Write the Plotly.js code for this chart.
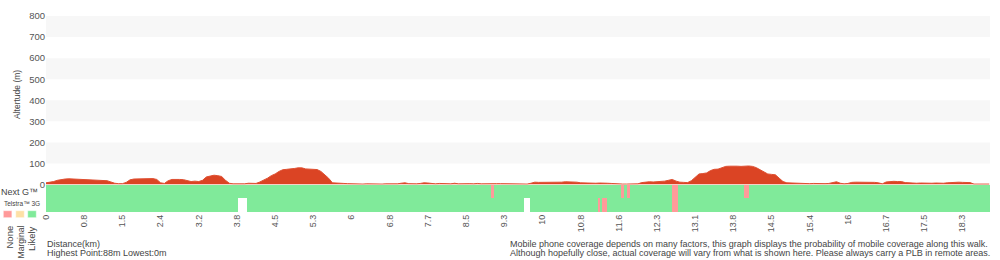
<!DOCTYPE html>
<html><head><meta charset="utf-8">
<script src="https://cdn.plot.ly/plotly-3.0.1.min.js"></script>
<style>html,body{margin:0;padding:0;background:#fff}#chart{width:1000px;height:260px}</style>
</head><body><div id="chart"></div>
<script>
// Elevation (m) sampled evenly along the walk; one distance label every 10 samples
const elevation = [
  8,10,14,20,24,26,27,26,25,25,
  23,22,21,20,21,20,18,12,6,4,
  4,10,22,26,27,28,29,30,28,24,
  8,5,18,24,25,24,23,20,14,16,
  14,20,36,40,44,42,38,20,6,3,
  2,2,3,6,6,5,12,20,30,42,
  50,62,70,72,73,76,79,79,74,73,
  72,71,62,48,30,8,6,6,5,4,
  3,3,2,2,3,2,3,2,2,3,
  3,2,3,6,8,4,3,3,5,8,
  7,4,3,5,3,4,3,6,3,4,
  3,4,3,5,3,4,5,5,4,4,
  4,3,1,1,1,1,2,6,11,10,
  10,9,12,10,9,11,13,12,14,11,
  8,7,6,7,6,7,5,6,5,3,
  2,2,2,2,2,3,9,12,13,12,
  13,14,16,20,24,16,11,10,9,18,
  35,50,52,55,66,72,73,80,86,87,
  88,87,86,88,88,86,80,70,58,50,
  48,46,30,14,8,7,5,4,5,4,
  4,5,4,5,4,5,10,13,6,3,
  5,10,11,11,12,11,11,10,8,3,
  12,14,15,14,14,9,7,7,6,7,
  6,7,6,7,5,6,8,10,10,11,
  10,11,9,2,2,2,2,2
];
const distanceLabels = ['0','0.8','1.5','2.4','3.2','3.8','4.5','5.3','6','6.8','7.7','8.5','9.3','10','10.8','11.6','12.3','13.1','13.8','14.5','15.4','16','16.7','17.5','18.3'];
const samplesPerLabel = 10;
const routeEnd = 247.2; // in sample units

// Coverage segments: start (sample units) and level; null = no data
const nextGStarts = [0, 116.5, 117.3, 150.6, 151.3, 152.2, 152.8, 163.9, 165.4, 182.8, 184.1];
const nextGLevels = ['Likely','None','Likely','None','Likely','None','Likely','None','Likely','None','Likely'];
const telstra3GStarts = [0, 50.2, 52.6, 125.2, 126.7, 144.5, 145.1, 145.6, 147.0, 163.9, 165.4];
const telstra3GLevels = ['Likely', null, 'Likely', null, 'Likely', 'None', 'Likely', 'None', 'Likely', 'None', 'Likely'];
const levelNames = ['None','Marginal','Likely'];
const levelColors = {None:'#ff9a9a', Marginal:'#fde0a6', Likely:'#80ea9a'};

const footerLeft = ['Distance(km)', 'Highest Point:88m Lowest:0m'];
const footerRight = ['Mobile phone coverage depends on many factors, this graph displays the probability of mobile coverage along this walk.',
  'Although hopefully close, actual coverage will vary from what is shown here. Please always carry a PLB in remote areas.'];

// ---- layout geometry ----
const W = 1000, H = 260, ML = 46, MR = 10, MT = 16, MB = 48;
const PW = W - ML - MR, PH = H - MT - MB;
const PX = p => (p - ML) / PW;
const PY = p => (MT + PH - p) / PH;
const covSplit = PY(184.5);

const sampleX = elevation.map((_, i) => i);
const tickVals = distanceLabels.map((_, i) => i * samplesPerLabel);

const traces = [{
  type: 'scatter', mode: 'lines', x: sampleX, y: elevation,
  fill: 'tozeroy', fillcolor: '#db4424',
  line: {color: '#de4f31', width: 1},
  xaxis: 'x', yaxis: 'y', hoverinfo: 'skip', showlegend: false
}];

function segs(starts, levels, row, acc) {
  starts.forEach((s, i) => {
    const lv = levels[i];
    if (!lv) return;
    const e = i + 1 < starts.length ? starts[i + 1] : routeEnd;
    acc[lv].y.push(row); acc[lv].base.push(s); acc[lv].x.push(e - s);
  });
}
const acc = {};
levelNames.forEach(l => acc[l] = {y: [], base: [], x: []});
segs(nextGStarts, nextGLevels, 'Next G', acc);
segs(telstra3GStarts, telstra3GLevels, 'Telstra 3G', acc);
levelNames.forEach(l => {
  if (!acc[l].x.length) return;
  traces.push({
    type: 'bar', orientation: 'h', y: acc[l].y, x: acc[l].x, base: acc[l].base,
    width: 1, marker: {color: levelColors[l], line: {width: 0}},
    xaxis: 'x', yaxis: 'y2', hoverinfo: 'skip', showlegend: false
  });
});

const shapes = [100, 300, 500, 700].map(v => ({
  type: 'rect', xref: 'paper', yref: 'y', x0: 0, x1: 1, y0: v, y1: v + 100,
  fillcolor: '#f7f7f7', line: {width: 0}, layer: 'below'
}));
// legend swatches
[[3.3, 'None'], [15.7, 'Marginal'], [27.7, 'Likely']].forEach(([px, l]) => {
  shapes.push({type: 'rect', xref: 'paper', yref: 'paper',
    x0: PX(px), x1: PX(px + 8.6), y0: PY(217.7), y1: PY(210.7),
    fillcolor: levelColors[l], line: {width: 0.5, color: '#ffffff'}});
});

const txt = '#444';
const font = 'Liberation Sans, Arial, Helvetica, sans-serif';
const ann = (text, x, y, size, opts) => Object.assign({
  text, xref: 'paper', yref: 'paper', x: PX(x), y: PY(y), showarrow: false,
  xanchor: 'left', yanchor: 'middle', font: {family: font, size, color: txt}, borderpad: 0
}, opts || {});

const annotations = [
  ann('Altertude (m)', 16.5, 94.5, 8.5, {textangle: -90, xanchor: 'center'}),
  ann('Next G™', 0, 192, 9),
  ann('Telstra™ 3G', 3, 203.5, 6.5),
  ann('None', 9, 225, 9.5, {textangle: -90, xanchor: 'center', yanchor: 'top'}),
  ann('Marginal', 20, 225, 8.6, {textangle: -90, xanchor: 'center', yanchor: 'top'}),
  ann('Likely', 31.5, 225, 9.5, {textangle: -90, xanchor: 'center', yanchor: 'top'}),
  ann(footerLeft[0], 46, 243.5, 9),
  ann(footerLeft[1], 46, 252.5, 9),
  ann(footerRight[0], 509, 243.5, 9),
  ann(footerRight[1], 509, 252.5, 9)
];

const layout = {
  width: W, height: H, margin: {l: ML, r: MR, t: MT, b: MB, pad: 0},
  paper_bgcolor: '#fff', plot_bgcolor: 'rgba(0,0,0,0)',
  font: {family: font, color: txt},
  barmode: 'overlay', bargap: 0, showlegend: false,
  xaxis: {
    range: [0, routeEnd], anchor: 'y2', tickmode: 'array', tickvals: tickVals, ticktext: distanceLabels,
    tickangle: -90, ticks: '', showgrid: false, zeroline: false, showline: false,
    tickfont: {family: font, size: 9, color: '#555'}, fixedrange: true
  },
  yaxis: {
    domain: [covSplit, 1], anchor: 'x', range: [0, 800], tickmode: 'linear', tick0: 0, dtick: 100,
    ticks: '', showgrid: false, zeroline: false, showline: false,
    tickfont: {family: font, size: 9.5, color: '#555'}, fixedrange: true
  },
  yaxis2: {
    domain: [0, covSplit], anchor: 'x', type: 'category', categoryorder: 'array',
    categoryarray: ['Telstra 3G', 'Next G'], range: [-0.5, 1.5],
    showticklabels: false, ticks: '', showgrid: false, zeroline: false, showline: false, fixedrange: true
  },
  shapes, annotations
};

Plotly.newPlot('chart', traces, layout, {staticPlot: true, displayModeBar: false});
</script></body></html>
